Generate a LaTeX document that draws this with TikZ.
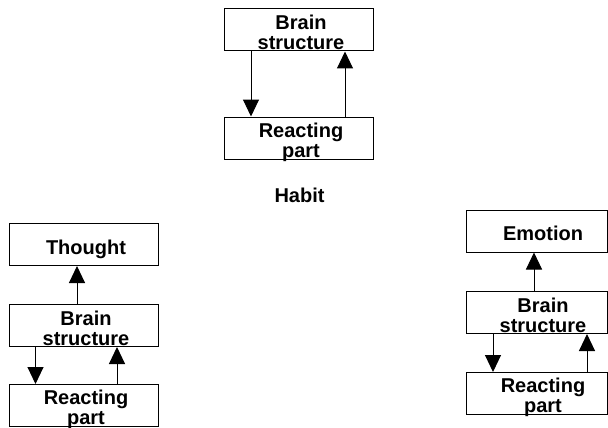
\documentclass[tikz,border=0pt]{standalone}
\usepackage{fontspec}
\setmainfont{Liberation Sans}
\usetikzlibrary{arrows.meta}

\begin{document}
\begin{tikzpicture}[x=1pt,y=-1pt,
                box/.style={draw=black,line width=1pt,minimum width=149pt,minimum height=42pt,inner sep=0pt},
                lbl/.style={font=\fontsize{20}{20}\selectfont\bfseries,align=center,text depth=0pt,inner sep=0pt},
                arr/.style={line width=1pt,-{Triangle[length=17pt,width=16pt]}}]
                \useasboundingbox (0,0) rectangle (608,428);

                % habit
                \node (hb) at (298.5,30) [box] {};
                \node (hr) at (298.5,138) [box] {};
                \node (hbt) at (301,32.5) [lbl] {Brain\\structure};
                \node (hrt) at (301,140) [lbl] {Reacting\\part};
                \node (habit) at (299.5,202) [lbl,anchor=base] {Habit};
                \draw[arr] ([xshift=-47.5pt]hb.south) -- ([xshift=-47.5pt]hr.north);
                \draw[arr] ([xshift=46.5pt]hr.north) -- ([xshift=46.5pt]hb.south);

                % thought
                \node (tt) at (83.5,244.5) [box] {};
                \node (tb) at (83.5,325.5) [box] {};
                \node (tr) at (83.5,405.5) [box] {};
                \node (ttt) at (86,247) [lbl] {Thought};
                \node (tbt) at (86,328) [lbl] {Brain\\structure};
                \node (trt) at (86,407.5) [lbl] {Reacting\\part};
                \draw[arr] ([xshift=-6.5pt]tb.north) -- ([xshift=-6.5pt]tt.south);
                \draw[arr] ([xshift=-48pt]tb.south) -- ([xshift=-48pt]tr.north);
                \draw[arr] ([xshift=33.5pt]tr.north) -- ([xshift=33.5pt]tb.south);

                % emotion
                \node (ee) at (536.5,231) [box,minimum width=141pt] {};
                \node (eb) at (536.5,312.5) [box,minimum width=141pt] {};
                \node (er) at (536.5,393.5) [box,minimum width=141pt] {};
                \node (eet) at (543,233) [lbl] {Emotion};
                \node (ebt) at (543,315) [lbl] {Brain\\structure};
                \node (ert) at (543,395.5) [lbl] {Reacting\\part};
                \draw[arr] ([xshift=-2.5pt]eb.north) -- ([xshift=-2.5pt]ee.south);
                \draw[arr] ([xshift=-43.5pt]eb.south) -- ([xshift=-43.5pt]er.north);
                \draw[arr] ([xshift=50.5pt]er.north) -- ([xshift=50.5pt]eb.south);
            \end{tikzpicture}
\end{document}
